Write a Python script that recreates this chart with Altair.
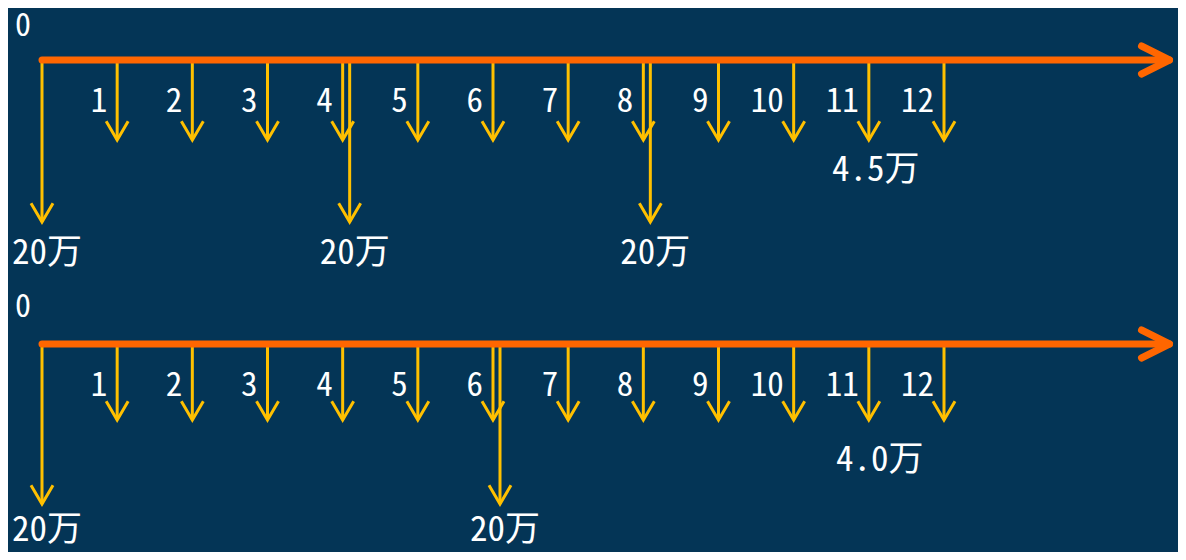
import altair as alt
import pandas as pd

# ---- data ----
periods = list(range(1, 13))            # monthly payments 1..12
period_labels = [str(p) for p in periods]
start_label = "0"
axis_end = 15                           # timeline runs on past period 12

big_amount = 20                         # 万
big_label = "20万"
top_big_periods = [0, 4, 8]
bottom_big_periods = [0, 6]

top_small_amount = 4.5
top_small_label = "4.5万"
bottom_small_amount = 4.0
bottom_small_label = "4.0万"
label_period = 11                       # where the monthly amount is written

# ---- style ----
BG = "#043556"
ORANGE = "#FF6600"
GOLD = "#FFC000"
TEXT = "#FFFFFF"
FONT = "Noto Sans Mono CJK SC, Noto Sans CJK SC, sans-serif"
W = 1170
HEAD = "M-1,-1.7L0,0L1,-1.7"


def panel(big_periods, small_amount, small_label, height, axis_px, small_px,
          big_px, small_dx, small_dy, big_dy, start_dy):
    xs = alt.Scale(domain=[0, 12], range=[34, 936], nice=False, zero=False)
    ys = alt.Scale(domain=[0, small_amount, big_amount],
                   range=[axis_px, small_px, big_px], nice=False, zero=False)

    small_df = pd.DataFrame({
        "period": periods,
        "amount": [small_amount] * len(periods),
        "label": period_labels,
    })
    big_df = pd.DataFrame({
        "period": big_periods,
        "amount": [big_amount] * len(big_periods),
        "label": [big_label] * len(big_periods),
    })
    axis_df = pd.DataFrame({"start": [0], "end": [axis_end]})
    start_df = pd.DataFrame({"period": [0], "label": [start_label]})
    amt_df = pd.DataFrame({"period": [label_period], "amount": [small_amount],
                           "label": [small_label]})

    X = lambda f: alt.X(f, scale=xs, axis=None)
    Y = lambda f: alt.Y(f, scale=ys, axis=None)
    Y0 = alt.Y(datum=0, scale=ys, axis=None)

    small_shaft = alt.Chart(small_df).mark_rule(color=GOLD, strokeWidth=3).encode(
        x=X("period:Q"), y=Y("amount:Q"), y2=alt.Y2(datum=0))
    small_head = alt.Chart(small_df).mark_point(
        shape=HEAD, size=484, filled=False, stroke=GOLD,
        strokeWidth=3, opacity=1).encode(x=X("period:Q"), y=Y("amount:Q"))

    layers = [small_shaft, small_head]
    # big payments: the one at period 0 stands alone, the later ones sit
    # just beside the monthly arrow of the same period
    for cond, off in (("datum.period == 0", 0), ("datum.period > 0", 7)):
        base = alt.Chart(big_df).transform_filter(cond)
        layers += [
            base.mark_rule(color=GOLD, strokeWidth=3, xOffset=off).encode(
                x=X("period:Q"), y=Y("amount:Q"), y2=alt.Y2(datum=0)),
            base.mark_point(shape=HEAD, size=484, filled=False, stroke=GOLD,
                            strokeWidth=3, opacity=1, xOffset=off).encode(
                x=X("period:Q"), y=Y("amount:Q")),
            base.mark_text(fontSize=35, font=FONT, color=TEXT, align="center",
                           baseline="middle", dx=off + 5, dy=big_dy).encode(
                x=X("period:Q"), y=Y("amount:Q"), text="label:N"),
        ]

    axis_line = alt.Chart(axis_df).mark_rule(
        color=ORANGE, strokeWidth=7, strokeCap="round").encode(
        x=X("start:Q"), x2="end:Q", y=Y0)
    axis_head = alt.Chart(axis_df).mark_point(
        shape="M-2,-1L0,0L-2,1", size=784, filled=False, stroke=ORANGE,
        strokeWidth=7, strokeCap="round", strokeJoin="round", opacity=1).encode(
        x=X("end:Q"), y=Y0)

    start_text = alt.Chart(start_df).mark_text(
        fontSize=32, font=FONT, color=TEXT, align="center", baseline="middle",
        dx=-19, dy=start_dy).encode(x=X("period:Q"), y=Y0, text="label:N")
    period_text = alt.Chart(small_df).mark_text(
        fontSize=33, font=FONT, color=TEXT, align="right", baseline="middle",
        dx=-10, dy=42).encode(x=X("period:Q"), y=Y0, text="label:N")
    amount_text = alt.Chart(amt_df).mark_text(
        fontSize=35, font=FONT, color=TEXT, align="center", baseline="middle",
        dx=small_dx, dy=small_dy).encode(
        x=X("period:Q"), y=Y("amount:Q"), text="label:N")

    layers += [axis_line, axis_head, start_text, period_text, amount_text]
    return alt.layer(*layers).properties(width=W, height=height)


top = panel(top_big_periods, top_small_amount, top_small_label,
            height=276, axis_px=52, small_px=132, big_px=214,
            small_dx=7, small_dy=30, big_dy=31, start_dy=-34)
bottom = panel(bottom_big_periods, bottom_small_amount, bottom_small_label,
               height=268, axis_px=60, small_px=136, big_px=220,
               small_dx=11, small_dy=40, big_dy=26, start_dy=-37)

chart = alt.vconcat(top, bottom, spacing=0).properties(
    background=BG, padding=0
).configure_view(stroke=None)

chart.save("out.html", embed_options={"renderer": "svg", "actions": False})
